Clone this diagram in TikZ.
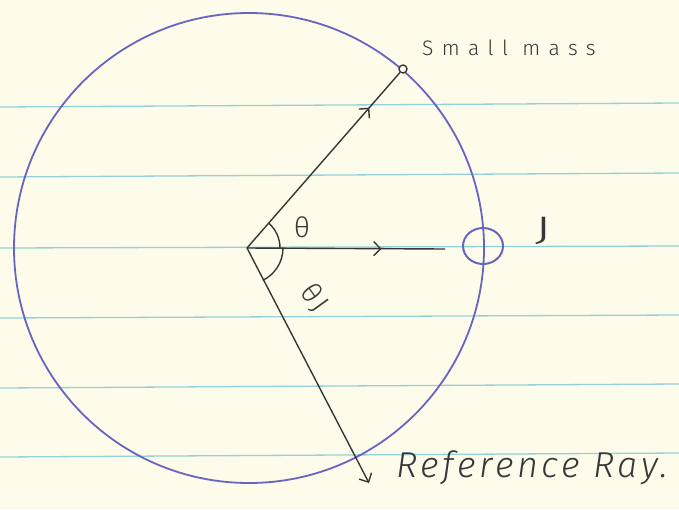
\documentclass[tikz,border=0pt]{standalone}
\usepackage{fontspec}
\setmainfont{Fira Sans Light}
\usetikzlibrary{arrows.meta,decorations.markings,shapes.geometric,calc}
\definecolor{paper}{RGB}{253,252,234}
\definecolor{rulec}{RGB}{150,208,218}
\definecolor{orbitc}{RGB}{105,100,195}
\definecolor{pen}{RGB}{55,55,55}
\begin{document}
\begin{tikzpicture}[x=1pt,y=-1pt,
  penline/.style={draw=pen, line width=1.4pt},
  barb/.tip={Straight Barb[length=7pt,width=14pt]},
  midarrow/.style={postaction={decorate},
    decoration={markings, mark=at position #1 with {\arrow[pen,line width=1.4pt]{barb}}}},
  hand/.style={text=pen, inner sep=0pt}]
\fill[paper] (0,0) rectangle (679,509);
\useasboundingbox (0,0) rectangle (679,509);
% ruled notebook lines
\foreach \a/\b in {107/103,177/173,248/246,318/315,388/384,457/453}
  \draw[rulec, line width=1.3pt] (0,\a) -- (679,\b);
% orbit
\node[draw=orbitc, line width=1.8pt, circle, minimum size=470pt, inner sep=0pt] (orbit) at (249,248) {};
% points
\coordinate (O) at (247,248);
\coordinate (hEnd) at (445,249);
\coordinate (rEnd) at (369,483);
\node[draw=pen, line width=1.4pt, circle, fill=paper, minimum size=8pt, inner sep=0pt] (mass) at (403,69) {};
\node[draw=orbitc, line width=2pt, ellipse, minimum width=40pt, minimum height=36pt, inner sep=0pt] (jup) at (483,246) {};
% rays
\draw[penline, midarrow=0.8] (O) -- (mass);
\draw[penline, midarrow=0.68] (O) -- (hEnd);
\draw[penline, -{barb}] (O) -- (rEnd);
% angle arcs
\draw[penline] ($(O)+(-49:33)$) arc[start angle=-49, end angle=0, radius=33];
\draw[penline] ($(O)+(0:36)$) arc[start angle=0, end angle=64, radius=36];
% labels
\node[hand, font=\fontsize{21}{24}\selectfont\addfontfeature{LetterSpace=40}, anchor=base west] (lmass) at (422,55) {Small mass};
\node[hand, font=\fontsize{34}{38}\selectfont] (lJ) at (543,231) {\scalebox{1.7}[1]{J}};
\node[hand, font=\fontsize{28}{30}\selectfont] (ltheta) at (302,227) {θ};
\node[hand, font=\fontsize{28}{30}\selectfont, rotate=-54] (lthetaJ) at (314,298) {θ\kern3pt J};
\node[hand, font=\fontsize{36}{40}\selectfont\itshape\addfontfeature{LetterSpace=10}, anchor=base west] (lref) at (396,477) {Reference Ray.};
\end{tikzpicture}
\end{document}
